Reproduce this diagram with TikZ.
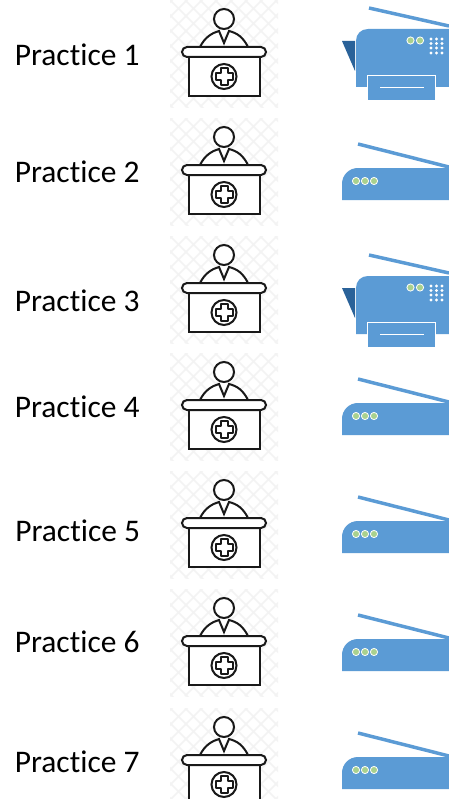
\documentclass[tikz,border=0pt]{standalone}
\usepackage{fontspec}
\setmainfont[Ligatures=NoCommon]{Carlito}
\definecolor{printerblue}{HTML}{5B9BD5}
\definecolor{flapblue}{HTML}{2A6299}
\definecolor{ledgreen}{HTML}{A9D18E}
\definecolor{latticegray}{HTML}{F3F3F3}
\tikzset{
	label/.style={
		anchor=west,
		font=\fontsize{23.6}{28}\selectfont,
		text=black,
		inner sep=0pt
	},
	outline/.style={
		draw=black!90,
		line width=1.5pt,
		fill=white
	},
	lid/.style={
		draw=printerblue,
		line width=2.6pt
	},
	led/.style={
		circle,
		fill=ledgreen,
		draw=white,
		line width=0.6pt,
		minimum size=5.4pt,
		inner sep=0pt
	},
	pics/desk/.style={
		code={
			% lattice behind the figure
			\begin{scope}
				\clip (170,0) rectangle (278,107);
				\foreach \d in {-120,-105,...,240} {
					\draw [latticegray, line width=1.1pt] (170+\d,0) -- ++(120,120);
					\draw [latticegray, line width=1.1pt] (170+\d,107) -- ++(120,-120);
				}
			\end{scope}
			% figure
			\draw [outline] (224,19) circle (10);
			\draw [outline] (200,47) .. controls (205,37) and (212,33) .. (219,31) -- (224,43) -- (229,31) .. controls (237,33) and (243,37) .. (248,47);
			\draw [outline] (189,57) rectangle (260,95.5);
			\draw [outline, rounded corners=3.75pt] (182,47) rectangle (266,57);
			\draw [outline] (224,76.5) circle (12.5);
			\draw [outline, line join=round] (220.5,68) -- (227.5,68) -- (227.5,73) -- (232.5,73) -- (232.5,80) -- (227.5,80) -- (227.5,85) -- (220.5,85) -- (220.5,80) -- (215.5,80) -- (215.5,73) -- (220.5,73) -- cycle;
		}
	},
	pics/bigprinter/.style={
		code={
			\draw [lid] (369,8) -- (449,26);
			\fill [flapblue] (342,41) -- (355,41) -- (355,71) -- cycle;
			\fill [printerblue] (449,29) -- (368,29) .. controls (361,29) and (356,34) .. (356,41) -- (356,87) -- (449,87) -- cycle;
			\draw [white, fill=printerblue, line width=0.7pt] (367,75) rectangle (435,100);
			\draw [white, line width=0.6pt] (380,87.5) -- (424,87.5);
			\node [led] at (410.5,40.5) {};
			\node [led] at (420,40.5) {};
			\foreach \x in {431,436.5,442} {
				\foreach \y in {39,43.5,48,53} {
					\fill [white] (\x,\y) circle (1.7);
				}
			}
		}
	},
	pics/smallprinter/.style={
		code={
			\draw [lid] (358,144) -- (449,167);
			\fill [printerblue] (449,168) -- (358,168) .. controls (349,168) and (342,175) .. (342,184) -- (342,200) -- (449,200) -- cycle;
			\node [led] at (356,181) {};
			\node [led] at (365,181) {};
			\node [led] at (374,181) {};
		}
	}
}
\begin{document}
\begin{tikzpicture}[x=0.75pt, y=-0.75pt]

		\clip (0,0) rectangle (449,799);
		\fill [white] (0,0) rectangle (449,799);

		% labels
		\node (practice1) [label] at (14.5,55)    {Practice 1};
		\node (practice2) [label] at (14.5,172)   {Practice 2};
		\node (practice3) [label] at (14.5,301)   {Practice 3};
		\node (practice4) [label] at (14.5,407)   {Practice 4};
		\node (practice5) [label] at (15,531)     {Practice 5};
		\node (practice6) [label] at (14.5,642)   {Practice 6};
		\node (practice7) [label] at (14.5,762)   {Practice 7};

		% front desks
		\pic at (0,0)   {desk};
		\pic at (0,118) {desk};
		\pic at (0,236) {desk};
		\pic at (0,353) {desk};
		\pic at (0,471) {desk};
		\pic at (0,589) {desk};
		\pic at (0,708) {desk};

		% printers
		\pic at (0,0)   {bigprinter};
		\pic at (0,0)   {smallprinter};
		\pic at (0,247) {bigprinter};
		\pic at (0,235) {smallprinter};
		\pic at (0,353) {smallprinter};
		\pic at (0,471) {smallprinter};
		\pic at (0,589) {smallprinter};

	\end{tikzpicture}
\end{document}
